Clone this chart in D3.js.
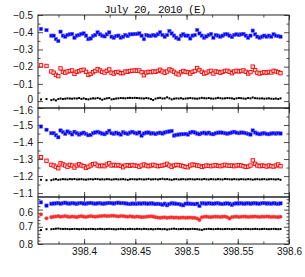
<!DOCTYPE html>
<html>
<head>
<meta charset="utf-8">
<script src="https://cdn.jsdelivr.net/npm/d3@7"></script>
<style>
  body { margin: 0; background: #fff; }
  svg { display: block; }
</style>
</head>
<body>
<div id="chart"></div>
<script>
// observation times (days), shared by every series
const times = [398.3579, 398.3633,
  398.3680, 398.3703, 398.3725, 398.3748, 398.3770, 398.3793, 398.3816, 398.3838, 398.3861, 398.3883,
  398.3906, 398.3929, 398.3951, 398.3974, 398.3996, 398.4019, 398.4042, 398.4064, 398.4087, 398.4109,
  398.4132, 398.4155, 398.4177, 398.4200, 398.4222, 398.4245, 398.4268, 398.4290, 398.4313, 398.4335,
  398.4358, 398.4381, 398.4403, 398.4426, 398.4448, 398.4471, 398.4494, 398.4516, 398.4539, 398.4561,
  398.4584, 398.4607, 398.4629, 398.4652, 398.4674, 398.4697, 398.4720, 398.4742, 398.4765, 398.4787,
  398.4810, 398.4833, 398.4855, 398.4878, 398.4900, 398.4923, 398.4946, 398.4968, 398.4991, 398.5013,
  398.5036, 398.5059, 398.5081, 398.5104, 398.5126, 398.5149, 398.5172, 398.5194, 398.5217, 398.5239,
  398.5262, 398.5285, 398.5307, 398.5330, 398.5352, 398.5375, 398.5398, 398.5420, 398.5443, 398.5465,
  398.5488, 398.5511, 398.5533, 398.5556, 398.5578, 398.5601, 398.5624, 398.5646, 398.5669, 398.5691,
  398.5714, 398.5737, 398.5759, 398.5782, 398.5804, 398.5827, 398.5850, 398.5872, 398.5895, 398.5917];

// top panel
const blue1 = [-0.419, -0.412,
  -0.380,-0.380,-0.360,-0.349,-0.403,-0.380,-0.374,-0.384,-0.388,-0.390,
  -0.368,-0.380,-0.384,-0.390,-0.393,-0.380,-0.360,-0.364,-0.378,-0.384,
  -0.399,-0.388,-0.380,-0.376,-0.388,-0.399,-0.374,-0.368,-0.378,-0.380,
  -0.368,-0.374,-0.384,-0.378,-0.388,-0.388,-0.390,-0.390,-0.393,-0.380,
  -0.360,-0.384,-0.380,-0.378,-0.384,-0.380,-0.388,-0.399,-0.384,-0.374,
  -0.384,-0.407,-0.393,-0.380,-0.368,-0.360,-0.380,-0.388,-0.380,-0.380,
  -0.364,-0.380,-0.384,-0.413,-0.393,-0.380,-0.368,-0.376,-0.384,-0.390,
  -0.368,-0.384,-0.380,-0.374,-0.380,-0.388,-0.388,-0.380,-0.372,-0.384,
  -0.388,-0.384,-0.388,-0.390,-0.380,-0.368,-0.380,-0.409,-0.388,-0.374,
  -0.368,-0.374,-0.380,-0.374,-0.380,-0.374,-0.388,-0.380,-0.378,-0.374];
const red1 = [-0.208, -0.204,
  -0.172,-0.165,-0.152,-0.145,-0.190,-0.170,-0.165,-0.172,-0.175,-0.178,
  -0.158,-0.170,-0.174,-0.180,-0.182,-0.170,-0.152,-0.158,-0.168,-0.175,
  -0.186,-0.178,-0.170,-0.166,-0.176,-0.184,-0.165,-0.160,-0.168,-0.170,
  -0.162,-0.163,-0.172,-0.170,-0.175,-0.176,-0.178,-0.176,-0.178,-0.168,
  -0.150,-0.166,-0.170,-0.168,-0.172,-0.170,-0.175,-0.182,-0.172,-0.165,
  -0.172,-0.184,-0.178,-0.170,-0.160,-0.155,-0.168,-0.175,-0.170,-0.168,
  -0.160,-0.170,-0.175,-0.192,-0.180,-0.170,-0.160,-0.165,-0.172,-0.176,
  -0.160,-0.172,-0.170,-0.165,-0.170,-0.175,-0.176,-0.170,-0.162,-0.172,
  -0.176,-0.172,-0.175,-0.178,-0.170,-0.160,-0.168,-0.200,-0.180,-0.165,
  -0.160,-0.164,-0.168,-0.165,-0.170,-0.166,-0.176,-0.172,-0.168,-0.162];
const black1 = [-0.010, -0.012,
  -0.006,-0.010,-0.004,-0.012,-0.015,-0.012,-0.014,-0.016,-0.015,-0.014,
  -0.016,-0.015,-0.018,-0.013,-0.016,-0.012,-0.010,-0.014,-0.016,-0.015,
  -0.018,-0.014,-0.008,-0.013,-0.016,-0.018,-0.010,-0.012,-0.015,-0.016,
  -0.018,-0.017,-0.016,-0.018,-0.019,-0.018,-0.019,-0.018,-0.017,-0.016,
  -0.015,-0.018,-0.016,-0.012,-0.006,-0.014,-0.017,-0.019,-0.015,-0.016,
  -0.022,-0.016,-0.010,-0.014,-0.016,-0.015,-0.017,-0.013,-0.015,-0.016,
  -0.018,-0.016,-0.015,-0.014,-0.016,-0.019,-0.017,-0.016,-0.018,-0.015,
  -0.014,-0.016,-0.019,-0.017,-0.015,-0.016,-0.018,-0.017,-0.016,-0.013,
  -0.016,-0.018,-0.017,-0.015,-0.014,-0.018,-0.016,-0.021,-0.017,-0.016,
  -0.015,-0.016,-0.014,-0.015,-0.016,-0.014,-0.013,-0.015,-0.012,-0.016];

// middle panel
const blue2 = [-1.491, -1.472,
  -1.452,-1.452,-1.440,-1.428,-1.468,-1.458,-1.448,-1.462,-1.455,-1.445,
  -1.460,-1.452,-1.444,-1.450,-1.455,-1.448,-1.440,-1.442,-1.452,-1.456,
  -1.460,-1.455,-1.450,-1.446,-1.455,-1.466,-1.452,-1.448,-1.455,-1.450,
  -1.444,-1.458,-1.452,-1.448,-1.455,-1.460,-1.454,-1.450,-1.456,-1.438,
  -1.450,-1.455,-1.456,-1.450,-1.452,-1.447,-1.452,-1.455,-1.450,-1.456,
  -1.460,-1.462,-1.465,-1.438,-1.442,-1.444,-1.446,-1.446,-1.448,-1.444,
  -1.455,-1.460,-1.456,-1.450,-1.446,-1.452,-1.455,-1.450,-1.455,-1.448,
  -1.446,-1.452,-1.455,-1.456,-1.455,-1.452,-1.449,-1.452,-1.456,-1.460,
  -1.455,-1.452,-1.456,-1.455,-1.452,-1.448,-1.444,-1.468,-1.456,-1.450,
  -1.446,-1.450,-1.452,-1.448,-1.446,-1.450,-1.452,-1.449,-1.452,-1.450];
const red2 = [-1.311, -1.290,
  -1.266,-1.262,-1.255,-1.246,-1.275,-1.268,-1.262,-1.255,-1.266,-1.262,
  -1.250,-1.262,-1.270,-1.262,-1.258,-1.248,-1.255,-1.262,-1.270,-1.272,
  -1.262,-1.258,-1.262,-1.258,-1.268,-1.275,-1.262,-1.266,-1.262,-1.265,
  -1.260,-1.252,-1.262,-1.264,-1.260,-1.265,-1.262,-1.260,-1.255,-1.262,
  -1.268,-1.262,-1.258,-1.262,-1.266,-1.262,-1.258,-1.260,-1.262,-1.266,
  -1.272,-1.262,-1.255,-1.262,-1.266,-1.264,-1.262,-1.258,-1.254,-1.252,
  -1.262,-1.268,-1.265,-1.262,-1.260,-1.254,-1.258,-1.262,-1.260,-1.258,
  -1.262,-1.264,-1.260,-1.258,-1.262,-1.266,-1.262,-1.260,-1.262,-1.258,
  -1.262,-1.264,-1.262,-1.258,-1.254,-1.256,-1.262,-1.292,-1.272,-1.262,
  -1.258,-1.262,-1.260,-1.256,-1.262,-1.258,-1.256,-1.262,-1.268,-1.258];
const black2 = [-1.178, -1.176,
  -1.176,-1.180,-1.182,-1.178,-1.180,-1.182,-1.181,-1.180,-1.182,-1.181,
  -1.183,-1.180,-1.181,-1.182,-1.180,-1.179,-1.181,-1.182,-1.180,-1.183,
  -1.182,-1.180,-1.181,-1.180,-1.182,-1.181,-1.179,-1.181,-1.182,-1.180,
  -1.181,-1.182,-1.180,-1.178,-1.181,-1.182,-1.181,-1.180,-1.182,-1.181,
  -1.180,-1.181,-1.183,-1.180,-1.181,-1.182,-1.180,-1.182,-1.184,-1.181,
  -1.182,-1.180,-1.178,-1.181,-1.182,-1.180,-1.181,-1.182,-1.180,-1.181,
  -1.182,-1.181,-1.180,-1.182,-1.181,-1.180,-1.183,-1.181,-1.180,-1.182,
  -1.181,-1.180,-1.182,-1.181,-1.180,-1.183,-1.182,-1.181,-1.180,-1.182,
  -1.181,-1.180,-1.182,-1.181,-1.180,-1.182,-1.181,-1.179,-1.181,-1.182,
  -1.180,-1.181,-1.182,-1.180,-1.181,-1.182,-1.181,-1.180,-1.182,-1.178];

// bottom panel
const blue3 = [0.558, 0.577,
  0.566,0.565,0.564,0.562,0.566,0.563,0.560,0.564,0.566,0.562,
  0.564,0.567,0.563,0.562,0.565,0.566,0.563,0.561,0.564,0.566,
  0.564,0.562,0.566,0.565,0.563,0.561,0.563,0.565,0.562,0.560,
  0.563,0.562,0.564,0.566,0.568,0.565,0.566,0.567,0.564,0.566,
  0.563,0.565,0.566,0.564,0.565,0.568,0.566,0.568,0.572,0.566,
  0.575,0.568,0.563,0.565,0.566,0.568,0.571,0.575,0.566,0.565,
  0.566,0.567,0.569,0.566,0.579,0.563,0.564,0.566,0.563,0.565,
  0.566,0.564,0.563,0.566,0.568,0.565,0.564,0.566,0.573,0.566,
  0.564,0.565,0.563,0.566,0.565,0.563,0.566,0.564,0.563,0.565,
  0.566,0.563,0.562,0.565,0.564,0.566,0.563,0.565,0.567,0.564];
const red3 = [0.628, 0.651,
  0.644,0.642,0.640,0.638,0.642,0.640,0.637,0.641,0.643,0.640,
  0.642,0.644,0.640,0.638,0.641,0.643,0.640,0.638,0.640,0.642,
  0.640,0.638,0.637,0.636,0.638,0.637,0.636,0.636,0.638,0.640,
  0.637,0.638,0.640,0.642,0.639,0.641,0.643,0.640,0.642,0.644,
  0.643,0.642,0.640,0.639,0.641,0.644,0.646,0.648,0.646,0.645,
  0.648,0.646,0.645,0.647,0.646,0.648,0.647,0.646,0.648,0.647,
  0.646,0.648,0.648,0.652,0.660,0.645,0.642,0.641,0.643,0.644,
  0.642,0.641,0.642,0.643,0.641,0.640,0.645,0.652,0.643,0.642,
  0.641,0.643,0.642,0.640,0.641,0.643,0.642,0.641,0.640,0.642,
  0.643,0.641,0.642,0.640,0.641,0.643,0.642,0.643,0.644,0.642];
const black3 = [0.719, 0.714,
  0.714,0.713,0.711,0.710,0.712,0.713,0.712,0.713,0.714,0.713,
  0.712,0.713,0.714,0.713,0.712,0.714,0.713,0.712,0.713,0.714,
  0.713,0.712,0.713,0.714,0.713,0.712,0.713,0.714,0.715,0.713,
  0.712,0.713,0.714,0.713,0.712,0.713,0.714,0.712,0.713,0.714,
  0.712,0.713,0.714,0.713,0.715,0.713,0.712,0.713,0.714,0.713,
  0.716,0.714,0.712,0.711,0.713,0.714,0.713,0.712,0.713,0.714,
  0.713,0.712,0.713,0.714,0.716,0.718,0.714,0.713,0.712,0.713,
  0.714,0.713,0.712,0.713,0.714,0.713,0.712,0.713,0.714,0.713,
  0.712,0.713,0.714,0.713,0.712,0.713,0.714,0.713,0.712,0.713,
  0.714,0.713,0.712,0.713,0.714,0.713,0.712,0.713,0.714,0.713];

// error bars on the first two points of the blue/red series
const leadErr = [0.008, 0.006];

const xTicks = [398.4, 398.45, 398.5, 398.55, 398.6];
const xTickLabels = ['398.4', '398.45', '398.5', '398.55', '398.6'];
const yTicks1 = [-0.5, -0.4, -0.3, -0.2, -0.1, 0];
const yTicks2 = [-1.6, -1.5, -1.4, -1.3, -1.2, -1.1];
const yTicks3 = [0.6, 0.7, 0.8];
const title = 'July 20, 2010 (E)';

const W = 305, H = 277;
const left = 38, right = 289;

const svg = d3.select('#chart').append('svg')
        .attr('width', W)
        .attr('height', H)
        .style('font-family', '"Liberation Sans", Arial, sans-serif');

const x = d3.scaleLinear().domain([398.355, 398.6]).range([left, right]);

const panels = [
        { top: 15,  bottom: 108, domain: [-0.5, 0.04],    ticks: yTicks1, blue: blue1, red: red1, black: black1, openRed: true,  err: true },
        { top: 108, bottom: 197, domain: [-1.6, -1.077],  ticks: yTicks2, blue: blue2, red: red2, black: black2, openRed: true,  err: true },
        { top: 197, bottom: 244, domain: [0.527, 0.8],    ticks: yTicks3, blue: blue3, red: red3, black: black3, openRed: false, err: false }
];

const fmt = v => v === 0 ? '0' : d3.format('.1f')(v);
const xMinor = d3.range(398.375, 398.6, 0.025);

panels.forEach((p, i) => {
        const y = d3.scaleLinear().domain(p.domain).range([p.top, p.bottom]);
        const g = svg.append('g');
        const yMinor = y.ticks(10).filter(v => !p.ticks.some(t => Math.abs(t - v) < 1e-6));

        // ticks on all four sides, pointing inward
        const axes = [
                [d3.axisLeft(y).tickValues(p.ticks).tickSize(-5).tickPadding(5).tickFormat(fmt), `translate(${left},0)`, true],
                [d3.axisLeft(y).tickValues(yMinor).tickSize(-2.5).tickFormat(''), `translate(${left},0)`, false],
                [d3.axisRight(y).tickValues(p.ticks).tickSize(-5).tickFormat(''), `translate(${right},0)`, false],
                [d3.axisRight(y).tickValues(yMinor).tickSize(-2.5).tickFormat(''), `translate(${right},0)`, false],
                [d3.axisTop(x).tickValues(xTicks).tickSize(-5).tickFormat(''), `translate(0,${p.top})`, false],
                [d3.axisTop(x).tickValues(xMinor).tickSize(-2.5).tickFormat(''), `translate(0,${p.top})`, false],
                [d3.axisBottom(x).tickValues(xTicks).tickSize(-5).tickPadding(4).tickFormat((d, j) => i === 2 ? xTickLabels[j] : ''), `translate(0,${p.bottom})`, i === 2],
                [d3.axisBottom(x).tickValues(xMinor).tickSize(-2.5).tickFormat(''), `translate(0,${p.bottom})`, false]
        ];
        axes.forEach(([ax, tr]) => {
                const a = g.append('g').attr('transform', tr).call(ax);
                a.select('.domain').remove();
                a.selectAll('line').attr('stroke', '#222').attr('stroke-width', 0.8);
                a.selectAll('text').attr('fill', '#111').style('font-size', '10px').style('font-family', '"Liberation Sans", Arial, sans-serif');
        });

        // the labels sitting on a panel seam are nudged apart a little
        g.selectAll('.tick text')
                .filter(d => d === p.ticks[0] && i > 0)
                .attr('dy', '0.55em');
        g.selectAll('.tick text')
                .filter(d => d === p.ticks[p.ticks.length - 1] && i === 0)
                .attr('dy', '0.15em');

        g.append('rect')
                .attr('x', left).attr('y', p.top)
                .attr('width', right - left).attr('height', p.bottom - p.top)
                .attr('fill', 'none').attr('stroke', '#222').attr('stroke-width', 1);

        // error bars on the leading points
        if (p.err) {
                [p.blue, p.red].forEach((s, si) => {
                        g.selectAll(null).data(leadErr).enter().append('line')
                                .attr('x1', (e, j) => x(times[j])).attr('x2', (e, j) => x(times[j]))
                                .attr('y1', (e, j) => y(s[j] - e)).attr('y2', (e, j) => y(s[j] + e))
                                .attr('stroke', si === 0 ? '#00f' : '#f00').attr('stroke-width', 0.8);
                });
        }

        // black series
        g.selectAll(null).data(p.black).enter().append('rect')
                .attr('x', (d, j) => x(times[j]) - 1).attr('y', d => y(d) - 1)
                .attr('width', 2).attr('height', 2)
                .attr('fill', '#000');

        // red series
        if (p.openRed) {
                g.selectAll(null).data(p.red).enter().append('rect')
                        .attr('x', (d, j) => x(times[j]) - 1.7).attr('y', d => y(d) - 1.7)
                        .attr('width', 3.4).attr('height', 3.4)
                        .attr('fill', '#fdd').attr('stroke', '#f00').attr('stroke-width', 0.9);
        } else {
                g.selectAll(null).data(p.red).enter().append('circle')
                        .attr('cx', (d, j) => x(times[j])).attr('cy', d => y(d))
                        .attr('r', 1.8)
                        .attr('fill', '#f22').attr('stroke', '#f66').attr('stroke-width', 0.4);
        }

        // blue series
        g.selectAll(null).data(p.blue).enter().append('rect')
                .attr('x', (d, j) => x(times[j]) - 1.7).attr('y', d => y(d) - 1.7)
                .attr('width', 3.4).attr('height', 3.4)
                .attr('fill', '#00f').attr('stroke', '#66f').attr('stroke-width', 0.5);
});

svg.append('text')
        .attr('x', 155).attr('y', 13)
        .attr('text-anchor', 'middle')
        .style('font-family', '"Liberation Mono", "Courier New", monospace')
        .style('font-size', '11px')
        .style('letter-spacing', '-0.6px')
        .attr('fill', '#111')
        .text(title);
</script>
</body>
</html>
